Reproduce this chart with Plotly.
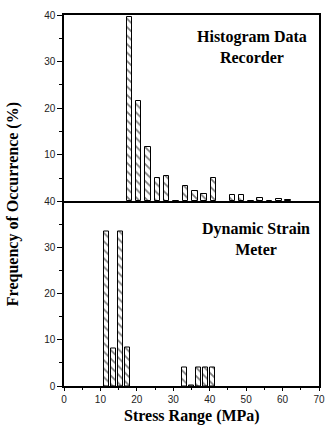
import plotly.graph_objects as go
from plotly.subplots import make_subplots

# Histogram Data Recorder (top panel)
hdr_stress = [18.0, 20.5, 23.1, 25.6, 28.2, 30.8, 33.4, 35.9, 38.4, 41.0, 46.2, 48.7, 51.3, 53.8, 56.4, 59.0, 61.5]
hdr_freq = [39.5, 21.5, 11.7, 5.0, 5.4, 0.2, 3.4, 2.2, 1.6, 5.0, 1.5, 1.4, 0.2, 0.8, 0.1, 0.6, 0.3]

# Dynamic Strain Meter (bottom panel)
dsm_stress = [11.6, 13.5, 15.5, 17.4, 33.0, 35.0, 36.9, 38.9, 40.8]
dsm_freq = [33.4, 8.2, 33.4, 8.4, 4.0, 0.2, 4.1, 4.1, 4.1]

x_ticks = [0, 10, 20, 30, 40, 50, 60, 70]
top_y_ticks = [10, 20, 30, 40]
bottom_y_ticks = [0, 10, 20, 30, 40]

fig = make_subplots(rows=2, cols=1, shared_xaxes=True, vertical_spacing=0)

pattern = dict(shape="\\", fgcolor="black", bgcolor="white", size=6, solidity=0.3)

fig.add_trace(go.Bar(x=hdr_stress, y=hdr_freq, width=1.5,
                     marker=dict(color="white", line=dict(color="black", width=1), pattern=pattern),
                     showlegend=False), row=1, col=1)
fig.add_trace(go.Bar(x=dsm_stress, y=dsm_freq, width=1.3,
                     marker=dict(color="white", line=dict(color="black", width=1), pattern=pattern),
                     showlegend=False), row=2, col=1)

tickfont = dict(family="Liberation Sans, Arial", size=10, color="#222")
axis_common = dict(showline=True, linecolor="black", linewidth=1.5,
                   showgrid=False, zeroline=False, ticks="outside", ticklen=5,
                   tickcolor="black", tickwidth=1, tickfont=tickfont)

fig.update_xaxes(range=[0, 70], tickvals=x_ticks, **axis_common)
fig.update_xaxes(showticklabels=False, ticks="", mirror=True, row=1, col=1)
fig.update_xaxes(mirror=False, ticklen=3,
                 minor=dict(ticks="outside", ticklen=2, dtick=5, tickcolor="black"), row=2, col=1)

fig.update_yaxes(range=[0, 40], mirror=True, **axis_common)
fig.update_yaxes(tickvals=top_y_ticks, minor=dict(ticks="outside", ticklen=3, dtick=5, tickcolor="black"), row=1, col=1)
fig.update_yaxes(tickvals=bottom_y_ticks, minor=dict(ticks="outside", ticklen=3, dtick=5, tickcolor="black"), row=2, col=1)

h_total = 428 - 12 - 42
split = 186 / h_total
fig.update_layout(
    yaxis=dict(domain=[split, 1]),
    yaxis2=dict(domain=[0, split]),
)

serif = "Liberation Serif, Times New Roman, serif"
fig.add_annotation(text="<b>Histogram Data<br>Recorder</b>", xref="paper", yref="paper",
                   x=0.736, y=0.914, xanchor="center", yanchor="middle", showarrow=False, align="center",
                   font=dict(family=serif, size=16, color="black"))
fig.add_annotation(text="<b>Dynamic Strain<br>Meter</b>", xref="paper", yref="paper",
                   x=0.751, y=0.396, xanchor="center", yanchor="middle", showarrow=False, align="center",
                   font=dict(family=serif, size=16, color="black"))
fig.add_annotation(text="<b>Frequency of Occurrence (%)</b>", xref="paper", yref="paper",
                   x=-0.2, y=0.49, xanchor="center", yanchor="middle", showarrow=False,
                   textangle=-90, font=dict(family=serif, size=16, color="black"))
fig.add_annotation(text="<b>Stress Range (MPa)</b>", xref="paper", yref="paper",
                   x=0.5, y=-0.082, xanchor="center", yanchor="middle", showarrow=False,
                   font=dict(family=serif, size=16, color="black"))

fig.update_layout(
    width=334, height=428,
    margin=dict(l=64, r=9, t=12, b=42),
    plot_bgcolor="white", paper_bgcolor="white",
    bargap=0,
)

fig.write_html("out.html", config={"displayModeBar": False},
               post_script="document.body.style.margin='0';document.body.style.padding='0';")
